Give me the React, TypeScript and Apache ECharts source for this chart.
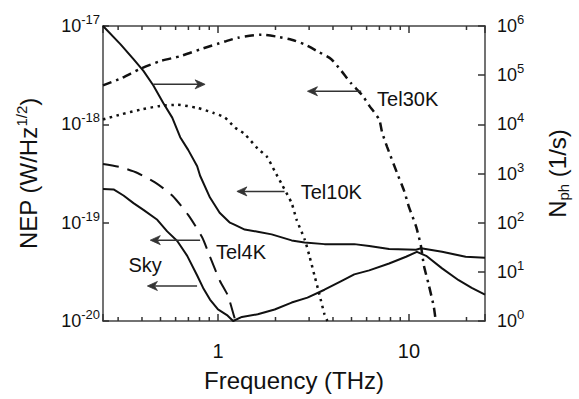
import React, { useEffect, useRef } from 'react';
import * as echarts from 'echarts';

// ---------- data (frequency in THz, NEP in W/Hz^1/2) ----------
const detFreq = [0.25, 0.309, 0.361, 0.407, 0.458, 0.517, 0.576, 0.634, 0.698, 0.778, 0.806, 0.908, 1.02, 1.155, 1.226, 1.38, 1.615, 1.91, 2.43, 2.84, 3.61, 5.17, 6.19, 7.87, 10.9, 11.55, 14.9, 19.8, 25];
const detNEP = [1.0e-17, 6.5e-18, 4.6e-18, 3.5e-18, 2.5e-18, 1.65e-18, 1.17e-18, 7.4e-19, 5.5e-19, 3.75e-19, 3.0e-19, 1.8e-19, 1.26e-19, 1.0e-19, 9.5e-20, 8.5e-20, 8.1e-20, 7.6e-20, 6.6e-20, 6.3e-20, 6.05e-20, 6.05e-20, 5.8e-20, 5.4e-20, 5.3e-20, 5.5e-20, 5.05e-20, 4.5e-20, 4.4e-20];

const skyFreq = [0.25, 0.284, 0.32, 0.361, 0.407, 0.481, 0.542, 0.612, 0.69, 0.778, 0.836, 0.908, 1.0, 1.114, 1.2, 1.334, 1.615, 1.98, 2.43, 2.94, 3.61, 4.42, 5.17, 6.19, 7.87, 9.65, 11.0, 12.3, 14.9, 18.2, 21.3, 25];
const skyNEP = [2.2e-19, 2.18e-19, 1.89e-19, 1.58e-19, 1.35e-19, 1.07e-19, 8.15e-20, 6.5e-20, 4.6e-20, 2.9e-20, 2.17e-20, 1.65e-20, 1.31e-20, 1.15e-20, 1.0e-20, 1.1e-20, 1.17e-20, 1.31e-20, 1.54e-20, 1.73e-20, 2.08e-20, 2.55e-20, 2.98e-20, 3.27e-20, 3.84e-20, 4.5e-20, 5.05e-20, 4.6e-20, 3.43e-20, 2.6e-20, 2.17e-20, 1.85e-20];

const tel4kFreq = [0.25, 0.309, 0.379, 0.47, 0.576, 0.698, 0.826, 0.908, 1.024, 1.127, 1.226, 1.245];
const tel4kNEP = [3.95e-19, 3.66e-19, 3.2e-19, 2.55e-19, 1.89e-19, 1.2e-19, 7.1e-20, 4.5e-20, 2.55e-20, 1.81e-20, 1.05e-20, 1.0e-20];

const tel10kFreq = [0.25, 0.309, 0.392, 0.499, 0.612, 0.778, 0.942, 1.087, 1.226, 1.38, 1.615, 1.8, 1.98, 2.15, 2.43, 2.58, 2.84, 3.01, 3.2, 3.4, 3.61, 3.74];
const tel10kNEP = [1.12e-18, 1.26e-18, 1.41e-18, 1.54e-18, 1.58e-18, 1.47e-18, 1.31e-18, 1.17e-18, 9.3e-19, 7.96e-19, 5.65e-19, 4.7e-19, 3.35e-19, 2.49e-19, 1.58e-19, 1.07e-19, 6.8e-20, 4.6e-20, 2.9e-20, 1.85e-20, 1.17e-20, 1.0e-20];

const tel30kFreq = [0.25, 0.309, 0.392, 0.499, 0.634, 0.806, 1.087, 1.27, 1.69, 2.05, 2.43, 2.84, 3.32, 3.92, 4.42, 4.99, 5.69, 6.19, 6.98, 7.23, 7.68, 8.66, 9.42, 10.0, 10.9, 11.55, 11.97, 12.7, 13.5, 13.8];
const tel30kNEP = [2.49e-18, 2.92e-18, 3.67e-18, 4.4e-18, 4.93e-18, 5.78e-18, 6.95e-18, 7.6e-18, 8.15e-18, 7.78e-18, 7.26e-18, 6.5e-18, 5.53e-18, 4.6e-18, 3.5e-18, 2.6e-18, 1.98e-18, 1.55e-18, 1.12e-18, 8.3e-19, 5.9e-19, 3.2e-19, 2.12e-19, 1.44e-19, 9.1e-20, 5.8e-20, 3.66e-20, 2.32e-20, 1.38e-20, 1.0e-20];

// minor tick positions on the frequency axis
const minorTickFreqs = [0.3, 0.4, 0.5, 0.6, 0.7, 0.8, 0.9, 2, 3, 4, 5, 6, 7, 8, 9, 20];

// annotation arrows: tail frequency, head frequency, NEP level
const arrowTail = [0.458, 5.62, 2.23, 0.806, 0.777];
const arrowHead = [0.856, 2.94, 1.256, 0.442, 0.427];
const arrowNEP = [2.55e-18, 2.17e-18, 2.08e-19, 6.64e-20, 2.27e-20];

// annotation texts: label, left frequency, NEP level
const noteText = ['Tel30K', 'Tel10K', 'Tel4K', 'Sky'];
const noteFreq = [6.81, 2.71, 0.976, 0.34];
const noteNEP = [1.81e-18, 2.03e-19, 5.05e-20, 3.75e-20];

const FONT = '"Liberation Sans", Arial, sans-serif';
const INK = '#111';
const FRAME = '#444';
const TICK = '#333';

const zip = (xs: number[], ys: number[]) => xs.map((x, i) => [x, ys[i]]);

const powLabel = (v: number) => {
  const l = Math.log10(v);
  const e = Math.round(l);
  if (Math.abs(l - e) > 1e-3) return '';
  return `{b|10}{s|${e}}`;
};

const decadeLabel = (v: number) => {
  const l = Math.log10(v);
  const e = Math.round(l);
  if (Math.abs(l - e) > 1e-3) return '';
  return String(Math.round(Math.pow(10, e)));
};

const yLabelRich = {
  b: { fontSize: 18, fontFamily: FONT, color: INK, lineHeight: 26 },
  s: { fontSize: 13, fontFamily: FONT, color: INK, lineHeight: 12, verticalAlign: 'top' },
};

export default function App() {
  const ref = useRef<HTMLDivElement>(null);

  useEffect(() => {
    if (!ref.current) return;
    const chart = echarts.init(ref.current, null, { renderer: 'svg' });

    const lineSeries = (data: number[][], width: number, type: any, smooth: number | boolean = false) => ({
      type: 'line',
      xAxisIndex: 0,
      yAxisIndex: 0,
      data,
      showSymbol: false,
      symbol: 'none',
      smooth,
      silent: true,
      lineStyle: { color: INK, width, type },
      z: 3,
    });

    const option: any = {
      animation: false,
      backgroundColor: '#fff',
      grid: { left: 103, top: 26, width: 382, height: 303, containLabel: false },
      xAxis: [
        {
          type: 'log',
          logBase: 10,
          min: 0.25,
          max: 25,
          position: 'bottom',
          name: 'Frequency (THz)',
          nameLocation: 'middle',
          nameGap: 45,
          nameTextStyle: { fontSize: 24, fontFamily: FONT, color: INK, lineHeight: 28 },
          axisLine: { show: true, lineStyle: { color: FRAME, width: 1.5 } },
          axisTick: { show: true, inside: true, length: 7, lineStyle: { color: TICK, width: 1.5 } },
          axisLabel: { formatter: decadeLabel, fontSize: 20, fontFamily: FONT, color: INK, margin: 20 },
          splitLine: { show: false },
        },
        {
          type: 'log',
          logBase: 10,
          min: 0.25,
          max: 25,
          position: 'top',
          axisLine: { show: true, lineStyle: { color: FRAME, width: 1.5 } },
          axisTick: { show: true, inside: true, length: 7, lineStyle: { color: TICK, width: 1.5 } },
          axisLabel: { show: false },
          splitLine: { show: false },
        },
      ],
      yAxis: [
        {
          type: 'log',
          logBase: 10,
          min: 1e-20,
          max: 1e-17,
          position: 'left',
          name: '{a|NEP (W/Hz}{s|1/2}{a|)}',
          nameLocation: 'middle',
          nameGap: 61,
          nameTextStyle: {
            rich: {
              a: { fontSize: 24, fontFamily: FONT, color: INK, lineHeight: 28 },
              s: { fontSize: 15, fontFamily: FONT, color: INK, lineHeight: 14, verticalAlign: 'top' },
            },
          },
          axisLine: { show: true, lineStyle: { color: FRAME, width: 1.5 } },
          axisTick: { show: true, inside: true, length: 6, lineStyle: { color: TICK, width: 1.5 } },
          axisLabel: { formatter: powLabel, margin: 3, rich: yLabelRich },
          splitLine: { show: false },
        },
        {
          type: 'log',
          logBase: 10,
          min: 1,
          max: 1e6,
          position: 'right',
          name: '{a|N}{p|ph}{a| (1/s)}',
          nameLocation: 'middle',
          nameGap: 58,
          nameTextStyle: {
            rich: {
              a: { fontSize: 24, fontFamily: FONT, color: INK, lineHeight: 28 },
              p: { fontSize: 15, fontFamily: FONT, color: INK, lineHeight: 14, verticalAlign: 'bottom' },
            },
          },
          axisLine: { show: true, lineStyle: { color: FRAME, width: 1.5 } },
          axisTick: { show: true, inside: true, length: 7, lineStyle: { color: TICK, width: 1.5 } },
          axisLabel: { formatter: powLabel, margin: 12, rich: yLabelRich },
          splitLine: { show: false },
        },
      ],
      series: [
        lineSeries(zip(detFreq, detNEP), 2, 'solid'),
        lineSeries(zip(skyFreq, skyNEP), 2, 'solid'),
        lineSeries(zip(tel4kFreq, tel4kNEP), 2, [16, 9], 0.2),
        lineSeries(zip(tel10kFreq, tel10kNEP), 2.5, [2.5, 4.5], 0.2),
        lineSeries(zip(tel30kFreq, tel30kNEP), 2.5, [9, 5, 2.5, 5], 0.2),
        {
          type: 'custom',
          xAxisIndex: 0,
          yAxisIndex: 0,
          silent: true,
          data: minorTickFreqs.map((f) => [f, 1e-19]),
          encode: { x: 0, y: 1 },
          renderItem: (params: any, api: any) => {
            const x = api.coord([api.value(0), api.value(1)])[0];
            const cs = params.coordSys;
            const bottom = cs.y + cs.height;
            const st = { stroke: TICK, lineWidth: 1.5 };
            return {
              type: 'group',
              children: [
                { type: 'line', shape: { x1: x, y1: bottom, x2: x, y2: bottom - 4 }, style: st },
                { type: 'line', shape: { x1: x, y1: cs.y, x2: x, y2: cs.y + 4 }, style: st },
              ],
            };
          },
          z: 4,
        },
        {
          type: 'custom',
          xAxisIndex: 0,
          yAxisIndex: 0,
          silent: true,
          data: arrowTail.map((t, i) => [t, arrowHead[i], arrowNEP[i]]),
          encode: { x: [0, 1], y: 2 },
          renderItem: (params: any, api: any) => {
            const p0 = api.coord([api.value(0), api.value(2)]);
            const p1 = api.coord([api.value(1), api.value(2)]);
            const dx = p1[0] - p0[0];
            const dy = p1[1] - p0[1];
            const len = Math.sqrt(dx * dx + dy * dy) || 1;
            const ux = dx / len;
            const uy = dy / len;
            const px = -uy;
            const py = ux;
            const L = 10;
            const W = 4.5;
            const N = 7;
            return {
              type: 'group',
              children: [
                {
                  type: 'line',
                  shape: { x1: p0[0], y1: p0[1], x2: p1[0] - ux * N, y2: p1[1] - uy * N },
                  style: { stroke: '#333', lineWidth: 1.5 },
                },
                {
                  type: 'polygon',
                  shape: {
                    points: [
                      [p1[0], p1[1]],
                      [p1[0] - ux * L + px * W, p1[1] - uy * L + py * W],
                      [p1[0] - ux * N, p1[1] - uy * N],
                      [p1[0] - ux * L - px * W, p1[1] - uy * L - py * W],
                    ],
                  },
                  style: { fill: '#333', stroke: '#333', lineWidth: 0.8 },
                },
              ],
            };
          },
          z: 5,
        },
        {
          type: 'custom',
          xAxisIndex: 0,
          yAxisIndex: 0,
          silent: true,
          data: noteFreq.map((f, i) => [f, noteNEP[i]]),
          encode: { x: 0, y: 1 },
          renderItem: (params: any, api: any) => {
            const p = api.coord([api.value(0), api.value(1)]);
            return {
              type: 'text',
              x: p[0],
              y: p[1],
              style: {
                text: noteText[params.dataIndex],
                fill: INK,
                font: `20px ${FONT}`,
                align: 'left',
                verticalAlign: 'middle',
              },
            };
          },
          z: 6,
        },
      ],
    };

    chart.setOption(option);
    return () => chart.dispose();
  }, []);

  return (
    <div
      ref={ref}
      style={{ position: 'fixed', left: 0, top: 0, width: 579, height: 399, background: '#fff' }}
    />
  );
}
